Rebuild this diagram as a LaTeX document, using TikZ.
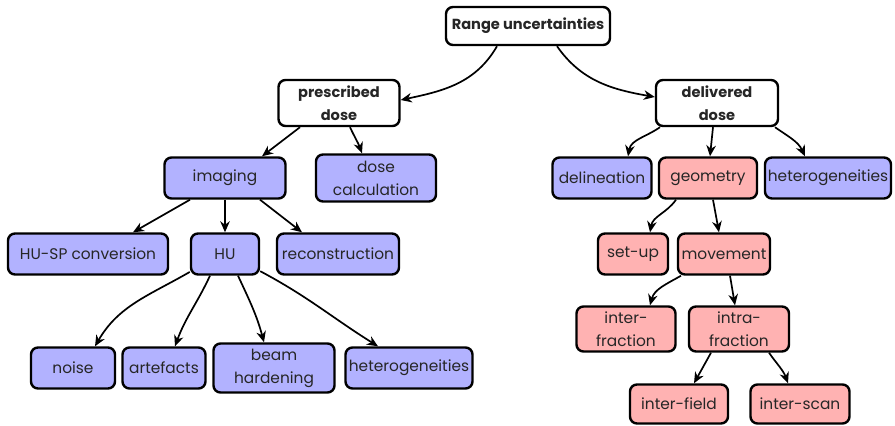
\documentclass[tikz,border=0pt]{standalone}
\usepackage{fontspec}
\setmainfont{Poppins}
\usetikzlibrary{arrows.meta}

\begin{document}
\begin{tikzpicture}[x=1pt, y=-1pt, >={Stealth[length=11pt, width=9.5pt, inset=3.5pt]},
  box/.style={draw, line width=2.4pt, rounded corners=7pt, align=center, inner sep=0pt,
    text=black!85, font=\fontsize{15.4}{23}\selectfont},
  topbox/.style={box, fill=white, font=\bfseries\fontsize{14.6}{23}\selectfont},
  bluebox/.style={box, fill=blue!30},
  redbox/.style={box, fill=red!30},
  arr/.style={->, line width=1.7pt}]
  \useasboundingbox (0,0) rectangle (895,426);
  % racine et deux branches
  \node[topbox, minimum width=164pt, minimum height=38pt] (range) at (528,26) {Range uncertainties};
  \node[topbox, minimum width=121pt, minimum height=46pt] (presc) at (339,103) {prescribed\\dose};
  \node[topbox, minimum width=122pt, minimum height=46pt] (deliv) at (717,103) {delivered\\dose};
  % dose prescrite
  \node[bluebox, minimum width=121pt, minimum height=41pt] (imaging) at (225,178) {imaging};
  \node[bluebox, minimum width=120pt, minimum height=47pt] (dosecalc) at (376,178) {dose\\calculation};
  \node[bluebox, minimum width=160pt, minimum height=41pt] (husp) at (88,254) {HU-SP conversion};
  \node[bluebox, minimum width=68pt, minimum height=41pt] (hu) at (225,254) {HU};
  \node[bluebox, minimum width=122pt, minimum height=41pt] (recon) at (338,254) {reconstruction};
  \node[bluebox, minimum width=84pt, minimum height=41pt] (noise) at (73,368) {noise};
  \node[bluebox, minimum width=83pt, minimum height=41pt] (artef) at (164,368) {artefacts};
  \node[bluebox, minimum width=121pt, minimum height=49pt] (beam) at (274,368) {beam\\hardening};
  \node[bluebox, minimum width=127pt, minimum height=41pt] (hetlow) at (409,368) {heterogeneities};
  % dose delivree
  \node[bluebox, minimum width=99pt, minimum height=41pt] (delin) at (602,178) {delineation};
  \node[redbox, minimum width=98pt, minimum height=41pt] (geom) at (708,178) {geometry};
  \node[bluebox, minimum width=126pt, minimum height=41pt] (hettop) at (828,178) {heterogeneities};
  \node[redbox, minimum width=70pt, minimum height=41pt] (setup) at (633,254) {set-up};
  \node[redbox, minimum width=92pt, minimum height=41pt] (move) at (724,254) {movement};
  \node[redbox, minimum width=99pt, minimum height=45pt] (inter) at (626,329) {inter-\\fraction};
  \node[redbox, minimum width=100pt, minimum height=45pt] (intra) at (739,329) {intra-\\fraction};
  \node[redbox, minimum width=98pt, minimum height=39pt] (field) at (679,404) {inter-field};
  \node[redbox, minimum width=99pt, minimum height=39pt] (scan) at (800,404) {inter-scan};
  % fleches
  \draw[arr] ([xshift=-31pt]range.south) to[out=-120, in=12] ([yshift=3pt]presc.east);
  \draw[arr] ([xshift=29pt]range.south) to[out=-55, in=170] ([yshift=6pt]deliv.west);
  \draw[arr] ([xshift=-39pt]presc.south) -- ([xshift=37pt]imaging.north);
  \draw[arr] ([xshift=11pt]presc.south) to[out=-65, in=110] ([xshift=-14pt]dosecalc.north);
  \draw[arr] ([xshift=-57pt]deliv.south) to[out=-145, in=80] ([xshift=26pt]delin.north);
  \draw[arr] ([xshift=-4pt]deliv.south) -- ([xshift=2pt]geom.north);
  \draw[arr] ([xshift=58pt]deliv.south) to[out=-35, in=115] ([xshift=-23pt]hettop.north);
  \draw[arr] ([xshift=-35pt]imaging.south) -- ([xshift=45pt]husp.north);
  \draw[arr] (imaging.south) -- (hu.north);
  \draw[arr] ([xshift=35pt]imaging.south) -- ([xshift=-36pt]recon.north);
  \draw[arr] (hu.-153) to[out=-150, in=60] ([xshift=22pt]noise.north);
  \draw[arr] ([xshift=-15pt]hu.south) to[out=-115, in=70] ([xshift=11pt]artef.north);
  \draw[arr] ([xshift=13pt]hu.south) to[out=-65, in=105] ([xshift=-10pt]beam.north);
  \draw[arr] (hu.-26) to[out=-28, in=148] ([xshift=-31pt]hetlow.north);
  \draw[arr] ([xshift=-32pt]geom.south) to[out=-125, in=80] ([xshift=17pt]setup.north);
  \draw[arr] ([xshift=5pt]geom.south) -- ([xshift=-5pt]move.north);
  \draw[arr] ([xshift=-43pt]move.south) to[out=-150, in=75] ([xshift=24pt]inter.north);
  \draw[arr] ([xshift=6pt]move.south) -- ([xshift=-4pt]intra.north);
  \draw[arr] ([xshift=-28pt]intra.south) -- ([xshift=15pt]field.north);
  \draw[arr] ([xshift=30pt]intra.south) to[out=-55, in=110] ([xshift=-12pt]scan.north);
\end{tikzpicture}
\end{document}
